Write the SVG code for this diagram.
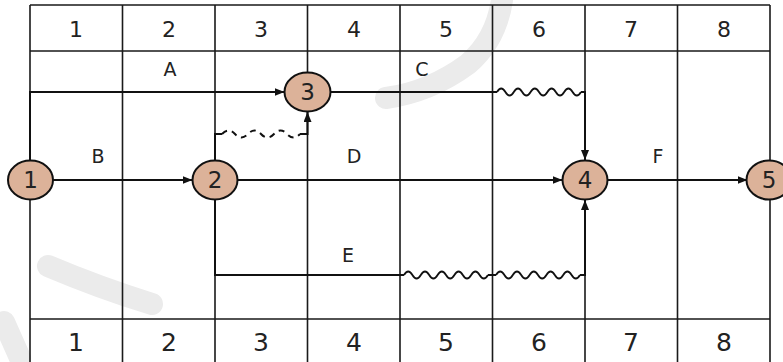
<svg xmlns="http://www.w3.org/2000/svg" width="783" height="362" viewBox="0 0 783 362">
  <style>
    .grid { stroke: #1a1a1a; stroke-width: 1.6; fill: none; }
    .edge { stroke: #111; stroke-width: 2; fill: none; }
    .wave { stroke: #111; stroke-width: 1.8; fill: none; }
    .dummy { stroke: #111; stroke-width: 2; fill: none; stroke-dasharray: 6 5; }
    .mark { stroke: #ebebeb; stroke-width: 22; stroke-linecap: round; fill: none; }
    .node ellipse { fill: #dcb299; stroke: #111; stroke-width: 2; }
    .node text { font-family: "DejaVu Sans", sans-serif; font-size: 23px; fill: #222; text-anchor: middle; }
    .hdr { font-family: "DejaVu Sans", sans-serif; font-size: 22px; fill: #222; text-anchor: middle; }
    .ftr { font-family: "DejaVu Sans", sans-serif; font-size: 25px; fill: #222; text-anchor: middle; }
    .lbl { font-family: "DejaVu Sans", sans-serif; font-size: 19px; fill: #222; text-anchor: middle; }
  </style>
  <defs>
    <marker id="arrow" viewBox="0 0 10 8" refX="10" refY="4" markerWidth="10" markerHeight="8" markerUnits="userSpaceOnUse" orient="auto">
      <path d="M0,0 L10,4 L0,8 Z" fill="#111"/>
    </marker>
    <!-- one cell-wide free-float wave, 5 periods over 84px -->
    <path id="w84" d="M0,0 q4.2,-7 8.4,0 q4.2,7 8.4,0 q4.2,-7 8.4,0 q4.2,7 8.4,0 q4.2,-7 8.4,0 q4.2,7 8.4,0 q4.2,-7 8.4,0 q4.2,7 8.4,0 q4.2,-7 8.4,0 q4.2,7 8.4,0"/>
  </defs>

  <rect width="783" height="362" fill="#fff"/>

  <!-- faint background strokes -->
  <g id="backdrop" class="mark">
    <path d="M48,266 Q100,288 152,304"/>
    <path d="M4,322 L20,358"/>
    <path d="M502,0 Q496,40 468,64 Q430,92 386,98"/>
  </g>

  <!-- time-scale grid -->
  <g id="grid" class="grid">
    <path d="M30,5 H770 M30,51 H770 M30,319 H770"/>
    <path d="M30,5 V362 M122.5,5 V362 M215,5 V362 M307.5,5 V362 M400,5 V362 M492.5,5 V362 M585,5 V362 M677.5,5 V362 M770,5 V362"/>
  </g>

  <!-- column numbers, top and bottom -->
  <g id="scale-top" class="hdr">
    <text x="76" y="37">1</text>
    <text x="169" y="37">2</text>
    <text x="261" y="37">3</text>
    <text x="354" y="37">4</text>
    <text x="446" y="37">5</text>
    <text x="539" y="37">6</text>
    <text x="631" y="37">7</text>
    <text x="724" y="37">8</text>
  </g>
  <g id="scale-bottom" class="ftr">
    <text x="76" y="351">1</text>
    <text x="169" y="351">2</text>
    <text x="261" y="351">3</text>
    <text x="354" y="351">4</text>
    <text x="446" y="351">5</text>
    <text x="539" y="351">6</text>
    <text x="631" y="351">7</text>
    <text x="724" y="351">8</text>
  </g>

  <!-- activities -->
  <g id="connectors">
    <!-- A -->
    <path class="edge" d="M30,160 V92 H284.5" marker-end="url(#arrow)"/>
    <!-- C, then its free float -->
    <path class="edge" d="M330.5,92 H497"/>
    <use href="#w84" class="wave" x="497" y="92"/>
    <path class="edge" d="M581,92 H585 V160" marker-end="url(#arrow)"/>
    <!-- B -->
    <path class="edge" d="M52.5,180 H192.5" marker-end="url(#arrow)"/>
    <!-- D -->
    <path class="edge" d="M237.5,180 H562.5" marker-end="url(#arrow)"/>
    <!-- F -->
    <path class="edge" d="M607.5,180 H747.5" marker-end="url(#arrow)"/>
    <!-- E, then two cells of free float -->
    <path class="edge" d="M215,199.5 V275 H404"/>
    <use href="#w84" class="wave" x="404" y="275"/>
    <path class="edge" d="M488,275 H496"/>
    <use href="#w84" class="wave" x="496" y="275"/>
    <path class="edge" d="M580,275 H585 V200" marker-end="url(#arrow)"/>
    <!-- dummy 2-3 -->
    <path class="edge" d="M215,160.5 V134 H222"/>
    <path class="dummy" d="M222,134 q6.5,-7 13,0 q6.5,7 13,0 q6.5,-7 13,0 q6.5,7 13,0 q6.5,-7 13,0 q6.5,7 13,0"/>
    <path class="edge" d="M300,134 H307.5 V112" marker-end="url(#arrow)"/>
  </g>

  <!-- activity labels -->
  <g id="labels" class="lbl">
    <text x="170" y="76">A</text>
    <text x="422" y="76">C</text>
    <text x="98" y="163">B</text>
    <text x="354" y="163">D</text>
    <text x="658" y="163">F</text>
    <text x="348" y="262">E</text>
  </g>

  <!-- events -->
  <g id="node-1" class="node"><ellipse cx="30.5" cy="180" rx="22.5" ry="19.5"/><text x="30.5" y="188">1</text></g>
  <g id="node-2" class="node"><ellipse cx="215" cy="180" rx="22.5" ry="19.5"/><text x="215" y="188">2</text></g>
  <g id="node-3" class="node"><ellipse cx="307.5" cy="92" rx="23" ry="19.5"/><text x="307.5" y="100">3</text></g>
  <g id="node-4" class="node"><ellipse cx="585" cy="180" rx="22.5" ry="19.5"/><text x="585" y="188">4</text></g>
  <g id="node-5" class="node"><ellipse cx="769" cy="180" rx="22.5" ry="19.5"/><text x="769" y="188">5</text></g>
</svg>
